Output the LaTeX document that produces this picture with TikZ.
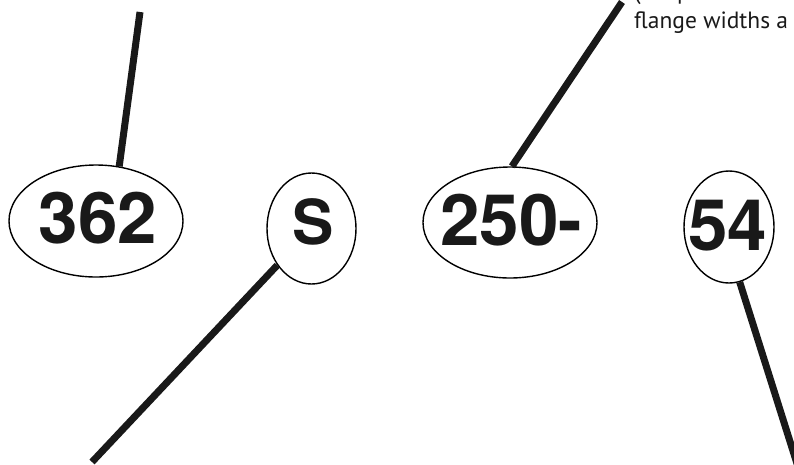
\documentclass[tikz,border=0pt]{standalone}
\usepackage{fontspec}
\setmainfont{TeX Gyre Heros}
\newfontfamily\notefont{PT Sans}
\usetikzlibrary{shapes.geometric}
\begin{document}
\begin{tikzpicture}[x=1pt,y=-1pt,
  oval/.style={draw, ellipse, line width=1.4pt, inner sep=0pt},
  num/.style={font=\fontsize{71}{71}\selectfont\bfseries, anchor=base, inner sep=0pt, text=black!90},
  lead/.style={line width=7pt, draw=black!90},
  note/.style={font=\notefont\fontsize{23.5}{23.5}\selectfont, anchor=base west, inner sep=0pt, text=black!90}]
\useasboundingbox (0,0) rectangle (794,464);
\clip (0,0) rectangle (794,464);
% ovals
\node[oval, minimum width=174pt, minimum height=112pt] (e362) at (96,221) {};
\node[oval, minimum width=89pt, minimum height=111pt] (eS) at (311.5,228.5) {};
\node[oval, minimum width=174pt, minimum height=111pt] (e250) at (510,222.5) {};
\node[oval, minimum width=90pt, minimum height=112pt] (e54) at (729,227) {};
% labels
\node[num] (t362) at (98,243) {362};
\node[num, font=\fontsize{62}{62}\selectfont\bfseries] (tS) at (313,244) {S};
\node[num] (t250) at (511.5,245) {250-};
\node[num] (t54) at (727.5,250) {54};
% note text (cut off at the top edge, as in the reference)
\node[note] (n1a) at (634,-1) {(};
\node[note] (n1b) at (677,-1) {p};
\node[note] (n2) at (634,28) {flange widths a};
% free ends
\coordinate (c1) at (140,12);
\coordinate (c2) at (92,462);
\coordinate (c3) at (622,2);
\coordinate (c4) at (799,470);
% leaders
\draw[lead] (c1) -- (e362.67);
\draw[lead] (eS.-133) -- (c2);
\draw[lead] (c3) -- (e250.88);
\draw[lead] (e54.-79) -- (c4);
\end{tikzpicture}
\end{document}
